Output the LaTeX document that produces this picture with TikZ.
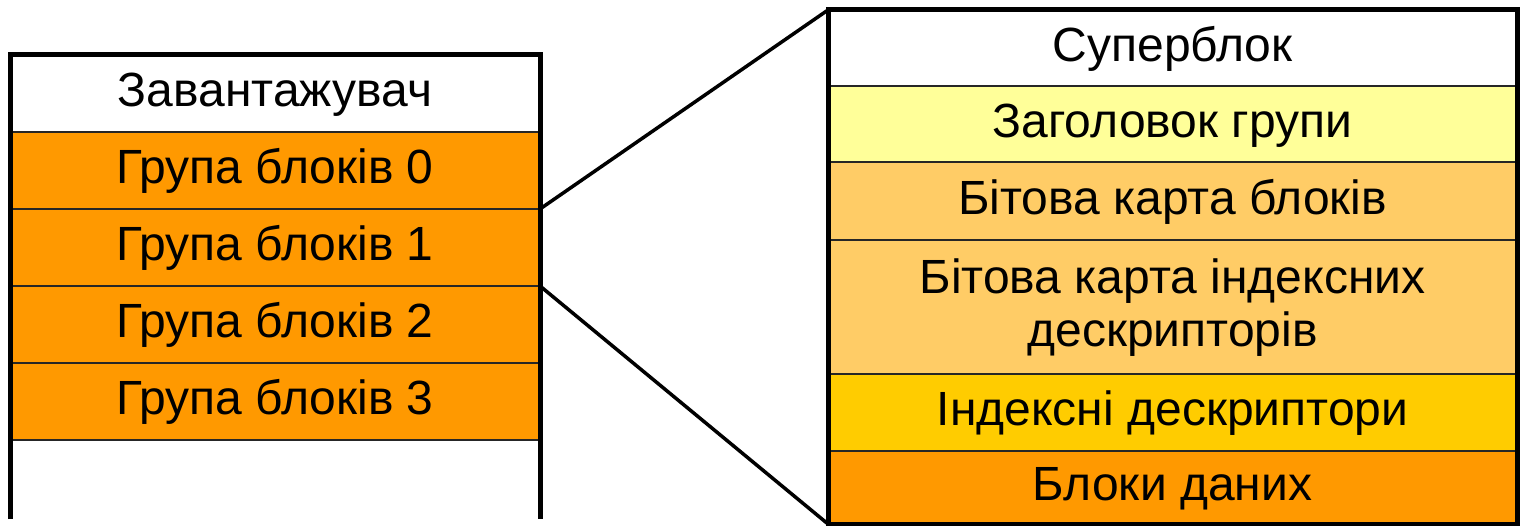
\documentclass[tikz,border=0pt]{standalone}
\usepackage{fontspec}
\setmainfont{Liberation Sans}
\usetikzlibrary{positioning}
\definecolor{grp}{HTML}{FF9900}
\definecolor{hdr}{HTML}{FFFF99}
\definecolor{bmap}{HTML}{FFCC66}
\definecolor{inod}{HTML}{FFCC00}
\tikzstyle{cell} = [draw=black!85, line width=2pt, outer sep=0pt, inner sep=0pt, align=center,
  font=\fontsize{48}{53}\selectfont, text height=38pt, text depth=11.5pt]
\tikzstyle{frame} = [draw, line width=5pt]
\tikzstyle{link} = [draw, line width=3.5pt]

\begin{document}
\begin{tikzpicture}[x=1pt,y=-1pt]
\useasboundingbox (0,0) rectangle (1523,526);

% disk layout
\foreach \c/\i [count=\n] in
{white/Завантажувач,grp/Група блоків 0,grp/Група блоків 1,grp/Група блоків 2,grp/Група блоків 3}
\node[cell,fill=\c,minimum height=77pt,minimum width=530pt,anchor=north west] at (10,{55+(\n-1)*77}) (L\n) {\i};
\coordinate (Lend) at (0,519);
\draw[frame] (L1.north west |- Lend) -- (L1.north west) -- (L1.north east) -- (L1.north east |- Lend);

% one block group
\node[cell,fill=white,minimum height=76pt,minimum width=689pt,anchor=north west] at (828,10) (R1) {Суперблок};
\node[cell,fill=hdr,minimum height=76pt,minimum width=689pt,below=0pt of R1] (R2) {Заголовок групи};
\node[cell,fill=bmap,minimum height=78pt,minimum width=689pt,below=0pt of R2] (R3) {Бітова карта блоків};
\node[cell,fill=bmap,minimum height=134pt,minimum width=689pt,text height=91pt,below=0pt of R3] (R4) {Бітова карта індексних\\дескрипторів};
\node[cell,fill=inod,minimum height=77pt,minimum width=689pt,below=0pt of R4] (R5) {Індексні дескриптори};
\node[cell,fill=grp,minimum height=73pt,minimum width=689pt,below=0pt of R5] (R6) {Блоки даних};
\draw[frame] (R1.north west) rectangle (R6.south east);

\draw[link] (L2.south east) -- (R1.north west);
\draw[link] (L3.south east) -- (R6.south west);
\end{tikzpicture}
\end{document}
